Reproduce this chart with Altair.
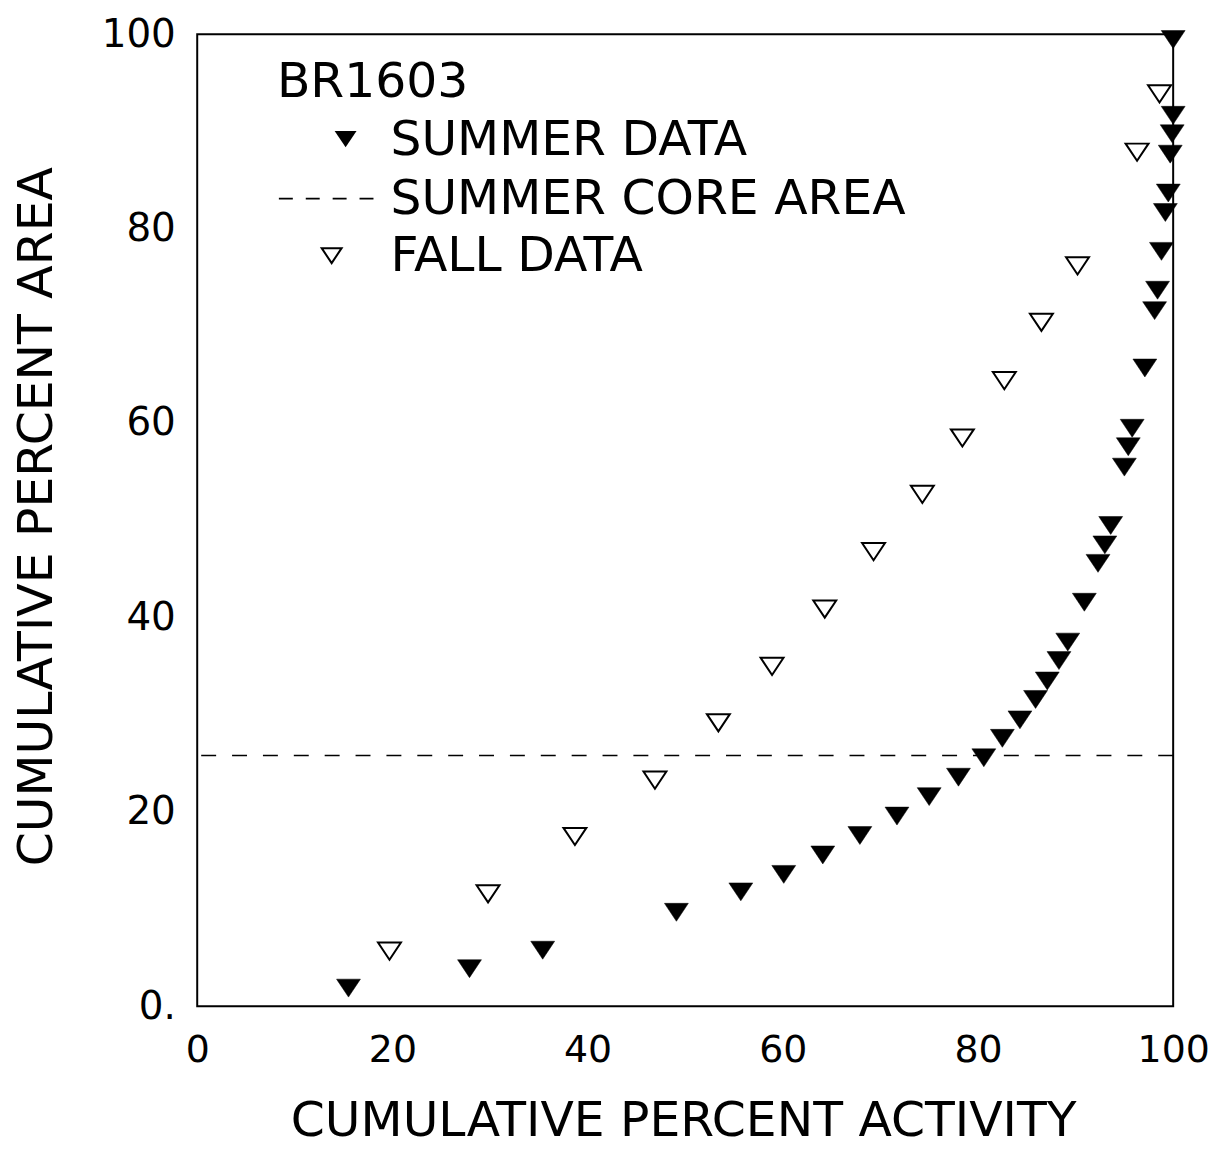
import altair as alt
import pandas as pd

# ---- data ----
summer_activity = [15.5, 27.9, 35.4, 49.1, 55.7, 60.1, 64.1, 67.9, 71.7, 75.0,
                   78.0, 80.6, 82.5, 84.3, 85.9, 87.1, 88.3, 89.2, 90.9, 92.3,
                   93.0, 93.6, 95.0, 95.4, 95.8, 97.1, 98.1, 98.4, 98.8, 99.2,
                   99.5, 99.7, 99.9, 100.0, 100.0]
summer_area = [1.9, 3.9, 5.8, 9.7, 11.8, 13.6, 15.6, 17.6, 19.6, 21.6,
               23.6, 25.6, 27.6, 29.5, 31.6, 33.5, 35.6, 37.5, 41.6, 45.6,
               47.5, 49.5, 55.5, 57.6, 59.5, 65.7, 71.6, 73.7, 77.7, 81.7,
               83.7, 87.7, 89.8, 91.7, 99.5]
fall_activity = [19.7, 29.8, 38.7, 46.9, 53.4, 58.9, 64.3, 69.3, 74.3, 78.4,
                 82.7, 86.5, 90.2, 96.3, 98.6]
fall_area = [5.7, 11.6, 17.5, 23.3, 29.2, 35.0, 40.9, 46.8, 52.7, 58.5,
             64.4, 70.4, 76.2, 87.9, 93.9]
summer_core_area = [25.8]
x_ticks = [0, 20, 40, 60, 80, 100]
y_ticks = [0, 20, 40, 60, 80, 100]
legend_title = "BR1603"
legend_labels = ["SUMMER DATA", "SUMMER CORE AREA", "FALL DATA"]

FONT = "DejaVu Sans"
TRI = "M-1,-0.72L1,-0.72L0,0.78Z"

summer = pd.DataFrame({"x": summer_activity, "y": summer_area})
fall = pd.DataFrame({"x": fall_activity, "y": fall_area})
core = pd.DataFrame({"y": summer_core_area})

xscale = alt.Scale(domain=[0, 100], nice=False, zero=False)
yscale = alt.Scale(domain=[0, 100], nice=False, zero=False)

xaxis = alt.Axis(values=x_ticks, title="CUMULATIVE PERCENT ACTIVITY", grid=False,
                 domain=False, ticks=False, tickSize=0, labelFlush=False,
                 labelOverlap=False, labelFont=FONT, labelFontSize=38,
                 labelColor="black", labelBaseline="alphabetic", labelPadding=56,
                 titleFont=FONT, titleFontSize=49, titleFontWeight="normal",
                 titleColor="black", titleX=488, titleY=130,
                 titleBaseline="alphabetic", titleAlign="center")
yaxis = alt.Axis(values=y_ticks, title="CUMULATIVE PERCENT AREA", grid=False,
                 domain=False, ticks=False, tickSize=0, labelFlush=False,
                 labelOverlap=False, labelFont=FONT, labelFontSize=39,
                 labelColor="black", labelBaseline="middle", labelPadding=22,
                 labelExpr="datum.value == 0 ? '0.' : datum.label",
                 titleFont=FONT, titleFontSize=49, titleFontWeight="normal",
                 titleColor="black", titleX=-146, titleY=484, titleAngle=270,
                 titleBaseline="alphabetic", titleAlign="center")

summer_pts = alt.Chart(summer).mark_point(
    shape=TRI, filled=True, fill="black", stroke="black", strokeWidth=0.5,
    size=576, opacity=1
).encode(x=alt.X("x:Q", scale=xscale, axis=xaxis),
         y=alt.Y("y:Q", scale=yscale, axis=yaxis))

fall_pts = alt.Chart(fall).mark_point(
    shape=TRI, filled=False, stroke="black", strokeWidth=2, size=529, opacity=1
).encode(x=alt.X("x:Q", scale=xscale), y=alt.Y("y:Q", scale=yscale))

core_line = alt.Chart(core).mark_rule(
    color="black", strokeWidth=1.6, strokeDash=[15, 16]
).encode(y=alt.Y("y:Q", scale=yscale))

def txt(s, x, y):
    return alt.Chart(pd.DataFrame({"t": [s]})).mark_text(
        font=FONT, fontSize=49, color="black", align="left", baseline="alphabetic"
    ).encode(text="t:N", x=alt.value(x), y=alt.value(y))

leg_title = txt(legend_title, 80, 63)
leg1 = txt(legend_labels[0], 194, 121)
leg2 = txt(legend_labels[1], 194, 180)
leg3 = txt(legend_labels[2], 194, 238)

leg_sym1 = alt.Chart(pd.DataFrame({"k": [0]})).mark_point(
    shape=TRI, filled=True, fill="black", size=484, opacity=1
).encode(x=alt.value(149), y=alt.value(105))
leg_sym3 = alt.Chart(pd.DataFrame({"k": [0]})).mark_point(
    shape=TRI, filled=False, stroke="black", strokeWidth=2, size=400, opacity=1
).encode(x=alt.value(135), y=alt.value(222))
leg_dash = alt.Chart(pd.DataFrame({"k": [0]})).mark_rule(
    color="black", strokeWidth=1.6, strokeDash=[14, 13]
).encode(x=alt.value(82), x2=alt.value(187), y=alt.value(165))

chart = alt.layer(
    core_line, fall_pts, summer_pts,
    leg_title, leg1, leg2, leg3, leg_sym1, leg_sym3, leg_dash
).properties(
    width=980, height=976,
    autosize=alt.AutoSizeParams(type="none"),
    padding={"left": 190, "top": 24, "right": 40, "bottom": 142},
    background="white",
).configure_view(stroke="black", strokeWidth=2)

chart.save("out.html", embed_options={"renderer": "svg", "actions": False})
